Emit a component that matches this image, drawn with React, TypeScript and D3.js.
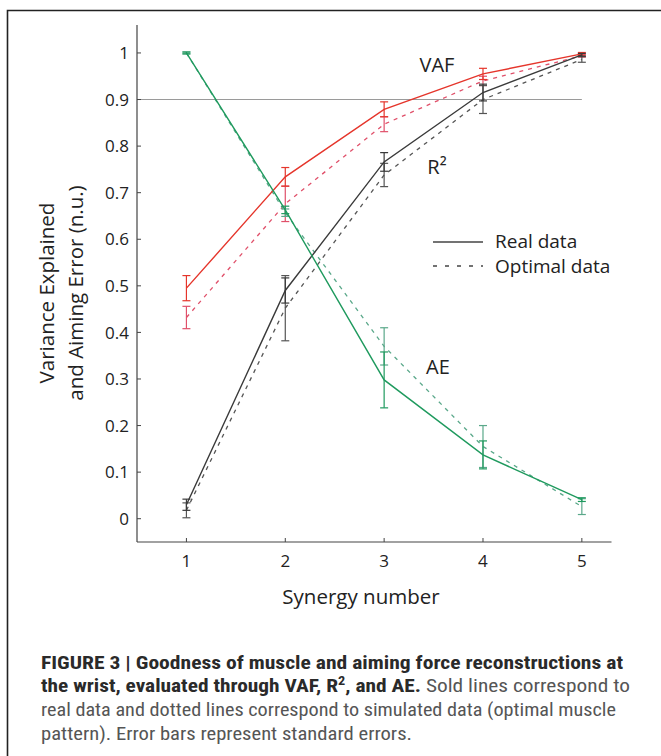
import React from "react";
import * as d3 from "d3";

const synergies = [1, 2, 3, 4, 5];
const yTicks = [0, 0.1, 0.2, 0.3, 0.4, 0.5, 0.6, 0.7, 0.8, 0.9, 1];
const yTickLabels = ["0", "0.1", "0.2", "0.3", "0.4", "0.5", "0.6", "0.7", "0.8", "0.9", "1"];

const vafReal = [0.495, 0.734, 0.879, 0.955, 0.998];
const vafRealErr = [0.027, 0.02, 0.016, 0.012, 0.003];
const vafOpt = [0.432, 0.676, 0.847, 0.94, 0.994];
const vafOptErr = [0.024, 0.038, 0.016, 0.01, 0.003];

const r2Real = [0.03, 0.49, 0.766, 0.915, 0.996];
const r2RealErr = [0.012, 0.027, 0.02, 0.018, 0.003];
const r2Opt = [0.018, 0.452, 0.738, 0.9, 0.986];
const r2OptErr = [0.016, 0.07, 0.025, 0.03, 0.006];

const aeReal = [1.0, 0.663, 0.298, 0.137, 0.041];
const aeRealErr = [0.002, 0.008, 0.06, 0.03, 0.004];
const aeOpt = [1.0, 0.657, 0.37, 0.155, 0.026];
const aeOptErr = [0.002, 0.008, 0.04, 0.045, 0.017];

const RED = "#e5352b";
const RED_D = "#e0506a";
const BLACK = "#3a3a3a";
const BLACK_D = "#555";
const GREEN = "#1f9a5e";
const GREEN_D = "#5aa88a";

const FONT = "'Open Sans', 'Noto Sans', sans-serif";

export default function App() {
  const x = d3.scaleLinear().domain([0.5, 5.3]).range([137, 611.5]);
  const y = d3.scaleLinear().domain([-0.05, 1.06]).range([542, 25]);
  const line = d3
    .line<number>()
    .x((_, i) => x(synergies[i]))
    .y((d) => y(d));

  const series = [
    { v: vafOpt, e: vafOptErr, c: RED_D, dash: true },
    { v: r2Opt, e: r2OptErr, c: BLACK_D, dash: true },
    { v: aeOpt, e: aeOptErr, c: GREEN_D, dash: true },
    { v: vafReal, e: vafRealErr, c: RED, dash: false },
    { v: r2Real, e: r2RealErr, c: BLACK, dash: false },
    { v: aeReal, e: aeRealErr, c: GREEN, dash: false },
  ];

  const cap = 4;
  return (
    <svg
      width={661}
      height={756}
      style={{ position: "absolute", left: 0, top: 0, background: "#fff" }}
    >
      <rect x={0} y={0} width={661} height={756} fill="#fff" />
      {/* frame */}
      <path d="M7.5,756 L7.5,10.5 L661,10.5" fill="none" stroke="#222" strokeWidth={1.6} />

      {/* 0.9 reference */}
      <line x1={x(0.5)} x2={x(5)} y1={y(0.9)} y2={y(0.9)} stroke="#9a9a9a" strokeWidth={1.2} />

      {/* axes */}
      <line x1={x(0.5)} x2={x(0.5)} y1={y(1.06)} y2={y(-0.05)} stroke="#444" strokeWidth={1.2} />
      <line x1={x(0.5)} x2={x(5.3)} y1={y(-0.05)} y2={y(-0.05)} stroke="#444" strokeWidth={1.2} />
      {yTicks.map((t, i) => (
        <g key={"yt" + i}>
          <line x1={x(0.5)} x2={x(0.5) + 4} y1={y(t)} y2={y(t)} stroke="#444" strokeWidth={1} />
          <text
            x={x(0.5) - 8}
            y={y(t)}
            dy="0.36em"
            textAnchor="end"
            fontFamily={FONT}
            fontSize={17}
            fill="#222"
          >
            {yTickLabels[i]}
          </text>
        </g>
      ))}
      {synergies.map((s) => (
        <g key={"xt" + s}>
          <line x1={x(s)} x2={x(s)} y1={y(-0.05)} y2={y(-0.05) - 4} stroke="#444" strokeWidth={1} />
          <text
            x={x(s)}
            y={y(-0.05) + 25}
            textAnchor="middle"
            fontFamily={FONT}
            fontSize={17}
            fill="#222"
          >
            {s}
          </text>
        </g>
      ))}
      <text x={361} y={604} textAnchor="middle" fontFamily={FONT} fontSize={20.5} fill="#222">
        Synergy number
      </text>
      <g transform="translate(54,293) rotate(-90)">
        <text x={0} y={0} textAnchor="middle" fontFamily={FONT} fontSize={20.5} fill="#222">
          Variance Explained
        </text>
        <text x={0} y={29} textAnchor="middle" fontFamily={FONT} fontSize={20.5} fill="#222">
          and Aiming Error (n.u.)
        </text>
      </g>

      {/* series */}
      {series.map((s, k) => (
        <g key={"s" + k}>
          <path
            d={line(s.v) || ""}
            fill="none"
            stroke={s.c}
            strokeWidth={s.dash ? 1.3 : 1.4}
            strokeDasharray={s.dash ? "4,5" : undefined}
          />
          {s.v.map((v, i) => {
            const cx = x(synergies[i]);
            const y0 = y(v - s.e[i]);
            const y1 = y(v + s.e[i]);
            return (
              <g key={i} stroke={s.c} strokeWidth={1.2}>
                <line x1={cx} x2={cx} y1={y0} y2={y1} />
                <line x1={cx - cap} x2={cx + cap} y1={y0} y2={y0} />
                <line x1={cx - cap} x2={cx + cap} y1={y1} y2={y1} />
              </g>
            );
          })}
        </g>
      ))}

      {/* labels */}
      <text x={437} y={72} textAnchor="middle" fontFamily={FONT} fontSize={20} fill="#222">VAF</text>
      <text x={437} y={174} textAnchor="middle" fontFamily={FONT} fontSize={20} fill="#222">
        R²
      </text>
      <text x={438} y={374} textAnchor="middle" fontFamily={FONT} fontSize={20} fill="#222">AE</text>

      {/* legend */}
      <line x1={433} x2={483} y1={242} y2={242} stroke="#444" strokeWidth={1.3} />
      <text x={495} y={248} fontFamily={FONT} fontSize={19} fill="#222">Real data</text>
      <line x1={433} x2={483} y1={266} y2={266} stroke="#444" strokeWidth={1.3} strokeDasharray="4,8" />
      <text x={495} y={273} fontFamily={FONT} fontSize={19} fill="#222">Optimal data</text>

      {/* caption */}
      <g fontFamily="'Liberation Sans Narrow', 'Arial Narrow', 'Roboto Condensed', sans-serif" fontSize={18}>
        <text x={41} y={669} fontWeight="bold" fill="#2a2a2a" textLength={582} lengthAdjust="spacingAndGlyphs">
          FIGURE 3 | Goodness of muscle and aiming force reconstructions at
        </text>
        <text x={41} y={692} fill="#555" textLength={589} lengthAdjust="spacingAndGlyphs">
          <tspan fontWeight="bold" fill="#2a2a2a">the wrist, evaluated through VAF, R</tspan>
          <tspan fontWeight="bold" fill="#2a2a2a" fontSize={12} dy={-7}>2</tspan>
          <tspan fontWeight="bold" fill="#2a2a2a" dy={7}>, and AE.</tspan>
          <tspan> Sold lines correspond to</tspan>
        </text>
        <text x={41} y={716} fill="#555" textLength={575} lengthAdjust="spacingAndGlyphs">
          real data and dotted lines correspond to simulated data (optimal muscle
        </text>
        <text x={41} y={740} fill="#555" textLength={371} lengthAdjust="spacingAndGlyphs">
          pattern). Error bars represent standard errors.
        </text>
      </g>
    </svg>
  );
}
